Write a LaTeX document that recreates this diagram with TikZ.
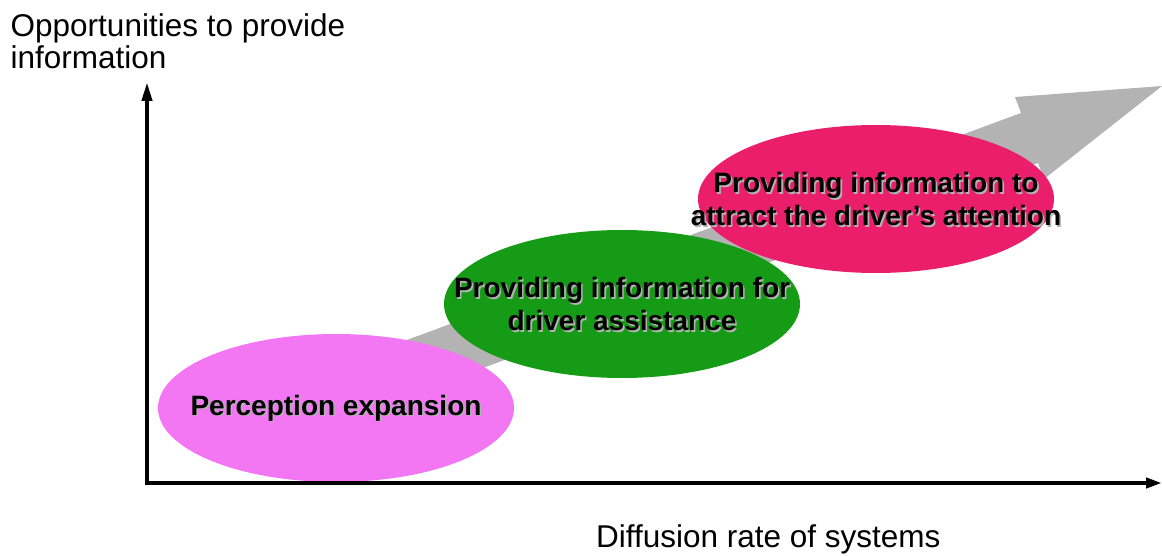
\documentclass[tikz,border=0pt]{standalone}
\usepackage{fontspec}
\setmainfont{Liberation Sans}
\usetikzlibrary{arrows.meta,shapes.geometric}
\definecolor{pinkfill}{RGB}{243,118,243}
\definecolor{greenfill}{RGB}{22,155,22}
\definecolor{redfill}{RGB}{235,30,108}
\definecolor{arrowgray}{RGB}{179,179,179}
\begin{document}
\begin{tikzpicture}[x=1pt,y=-1pt,
  phase/.style={ellipse, draw=none, minimum width=356pt, minimum height=148pt, inner sep=0pt},
  phasetext/.style={align=center, inner sep=0pt, font=\bfseries\fontsize{28}{33}\selectfont},
  shadowtext/.style={phasetext, text=black!30},
  axislabel/.style={inner sep=0pt, font=\fontsize{31.5}{32}\selectfont},
  yaxisline/.style={line width=4pt, -{Triangle[length=19pt,width=10pt]}},
  xaxisline/.style={line width=4pt, -{Triangle[length=16pt,width=10pt]}}
]
\useasboundingbox (0,0) rectangle (1162,556);

% big gray trend arrow
\fill[arrowgray] (250,398) -- (1021,113) -- (1015,97) -- (1162,86)
  -- (1044,179) -- (1038,163) -- (250,454) -- cycle;

% phase ellipses
\node[phase, fill=pinkfill] (pe) at (336,408) {};
\node[phase, fill=redfill] (re) at (876,199) {};
\node[phase, fill=greenfill] (ge) at (622,304) {};

% texts with shadow
\node[shadowtext] at ([shift={(1.6,1.6)}]pe.center) {Perception expansion};
\node[phasetext] (pt) at (pe.center) {Perception expansion};
\node[shadowtext] at ([shift={(1.6,1.6)}]ge.center) {Providing information for\\driver assistance};
\node[phasetext] (gt) at (ge.center) {Providing information for\\driver assistance};
\node[shadowtext] at ([shift={(1.6,1.6)}]re.center) {Providing information to\\attract the driver’s attention};
\node[phasetext] (rt) at (re.center) {Providing information to\\attract the driver’s attention};

% axes
\coordinate (O) at (147,483);
\coordinate (ytop) at (147,82);
\coordinate (xend) at (1162,483);
\draw[yaxisline] (O) -- (ytop);
\draw[xaxisline] (O) -- (xend);
\fill (145,481) rectangle (149,485);

% axis labels
\node[axislabel, anchor=north west, align=left] (ylab) at (10.5,13.7) {Opportunities to provide\\information};
\node[axislabel, anchor=base west] (xlab) at (596,547) {Diffusion rate of systems};
\end{tikzpicture}
\end{document}
